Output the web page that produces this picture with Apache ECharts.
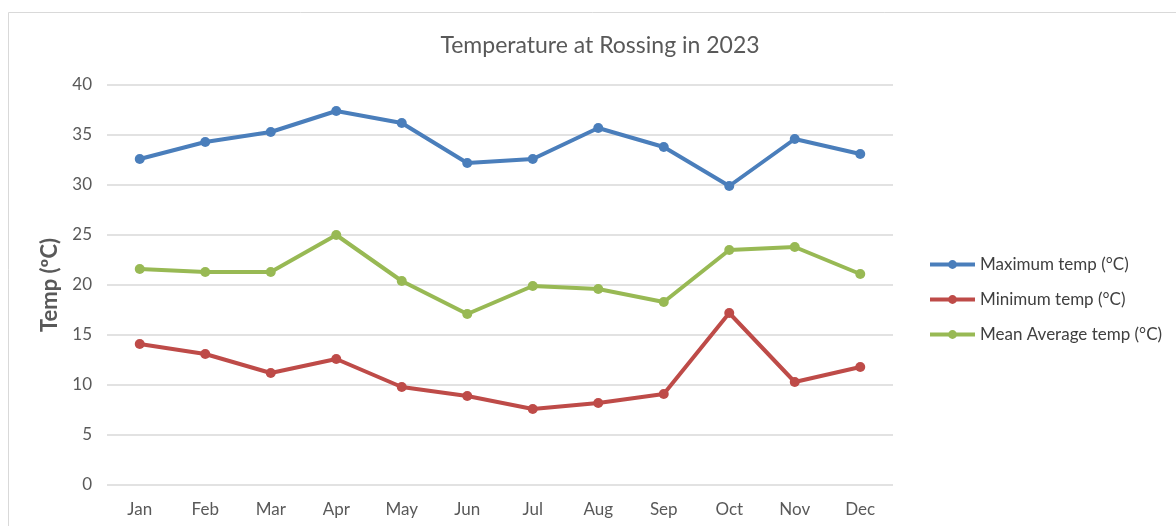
<!DOCTYPE html>
<html><head><meta charset="utf-8">
<script src="https://cdn.jsdelivr.net/npm/echarts@6/dist/echarts.min.js"></script>
<style>html,body{margin:0;padding:0;background:#fff}#c{width:1176px;height:526px}</style>
</head><body><div id="c"></div>
<script>
const months = ['Jan','Feb','Mar','Apr','May','Jun','Jul','Aug','Sep','Oct','Nov','Dec'];
const maxTemp = [32.6, 34.3, 35.3, 37.4, 36.2, 32.2, 32.6, 35.7, 33.8, 29.9, 34.6, 33.1];
const minTemp = [14.1, 13.1, 11.2, 12.6, 9.8, 8.9, 7.6, 8.2, 9.1, 17.2, 10.3, 11.8];
const meanTemp = [21.6, 21.3, 21.3, 25.0, 20.4, 17.1, 19.9, 19.6, 18.3, 23.5, 23.8, 21.1];
const seriesNames = ['Maximum temp (°C)', 'Minimum temp (°C)', 'Mean Average temp (°C)'];
const colors = ['#4a7ebb', '#be4b48', '#98b954'];

const font = 'Lato, "Open Sans", sans-serif';
const chart = echarts.init(document.getElementById('c'), null, {renderer: 'canvas'});
function mk(name, data, color) {
  return {
    name, type: 'line', data,
    symbol: 'circle', symbolSize: 10,
    lineStyle: {width: 4, color},
    itemStyle: {color},
    emphasis: {disabled: true}
  };
}
chart.setOption({
  animation: false,
  textStyle: {fontFamily: font},
  graphic: [{
    type: 'rect', shape: {x: 8.5, y: 12.5, width: 1180, height: 530},
    style: {fill: 'none', stroke: '#d9d9d9', lineWidth: 1}, z: -1
  }],
  title: {
    text: 'Temperature at Rossing in 2023', left: 595, top: 29, textAlign: 'center',
    textStyle: {fontFamily: font, fontSize: 23, fontWeight: 'normal', color: '#595959'}
  },
  legend: {
    orient: 'vertical', left: 923, top: 251, itemGap: 18,
    itemWidth: 45, itemHeight: 11,
    lineStyle: {width: 4},
    textStyle: {fontFamily: font, fontSize: 17, color: '#404040'},
    data: seriesNames
  },
  grid: {left: 107, right: 283, top: 85, bottom: 41},
  xAxis: {
    type: 'category', data: months, boundaryGap: true,
    axisLine: {show: false}, axisTick: {show: false},
    axisLabel: {fontFamily: font, fontSize: 17, color: '#595959', margin: 16}
  },
  yAxis: {
    type: 'value', min: 0, max: 40, interval: 5,
    name: 'Temp (ºC)', nameLocation: 'middle', nameGap: 46,
    nameTextStyle: {fontFamily: font, fontSize: 22, fontWeight: 'bold', color: '#595959'},
    axisLine: {show: false}, axisTick: {show: false},
    axisLabel: {fontFamily: font, fontSize: 17, color: '#595959', margin: 15},
    splitLine: {lineStyle: {color: '#d9d9d9', width: 1.5}}
  },
  series: [
    mk(seriesNames[0], maxTemp, colors[0]),
    mk(seriesNames[1], minTemp, colors[1]),
    mk(seriesNames[2], meanTemp, colors[2])
  ]
});
</script></body></html>
